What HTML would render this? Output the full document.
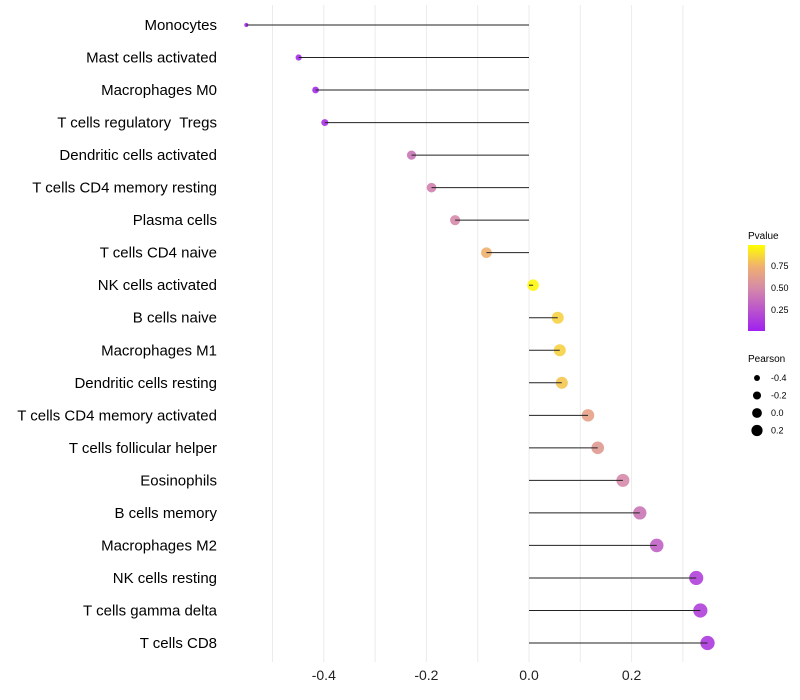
<!DOCTYPE html>
<html><head><meta charset="utf-8"><style>
body{margin:0;background:#fff;}
svg{display:block;font-family:"Liberation Sans",sans-serif;}
</style></head><body>
<svg id="chart" width="800" height="700">
<defs><linearGradient id="pg" x1="0" y1="1" x2="0" y2="0">
<stop offset="0" stop-color="#a020f0"/><stop offset="0.5" stop-color="#d58aa8"/><stop offset="0.75" stop-color="#f0b070"/><stop offset="1" stop-color="#ffff00"/>
</linearGradient></defs>
<g id="grid"></g><g id="dots"></g><g id="marks"></g><g id="labels"></g>
<g id="legend">
<text x="748" y="239" font-size="10">Pvalue</text>
<rect x="748" y="245" width="17" height="86" fill="url(#pg)"/>
<text x="771" y="269" font-size="9">0.75</text>
<text x="771" y="291" font-size="9">0.50</text>
<text x="771" y="313" font-size="9">0.25</text>
<text x="748" y="362" font-size="10">Pearson</text>
</g>
</svg>
<script>
const categories=["Monocytes","Mast cells activated","Macrophages M0","T cells regulatory  Tregs","Dendritic cells activated","T cells CD4 memory resting","Plasma cells","T cells CD4 naive","NK cells activated","B cells naive","Macrophages M1","Dendritic cells resting","T cells CD4 memory activated","T cells follicular helper","Eosinophils","B cells memory","Macrophages M2","NK cells resting","T cells gamma delta","T cells CD8"];
const pearson=[-0.551,-0.449,-0.416,-0.398,-0.229,-0.19,-0.144,-0.083,0.008,0.056,0.06,0.064,0.115,0.134,0.183,0.216,0.249,0.326,0.334,0.348];
const pvalues=[0.03,0.05,0.05,0.08,0.4,0.45,0.5,0.75,0.97,0.85,0.85,0.82,0.65,0.6,0.5,0.4,0.3,0.15,0.15,0.12];
const xTicks=[-0.4,-0.2,0.0,0.2];
const xTickLabels=["-0.4","-0.2","0.0","0.2"];
const gridVals=[-0.5,-0.4,-0.3,-0.2,-0.1,0,0.1,0.2,0.3];
const sizeLegendVals=[-0.4,-0.2,0.0,0.2];
const NS="http://www.w3.org/2000/svg";
const x=v=>529+v*513;
const y=i=>25+i*(618/(categories.length-1));
const r=v=>Math.sqrt(Math.max(3,33+52*v));
function lerp(a,b,t){return a.map((c,i)=>Math.round(c+(b[i]-c)*t));}
function col(p){const s=[[0,[160,32,240]],[0.5,[213,138,168]],[0.75,[240,176,112]],[1,[255,255,0]]];
for(let k=1;k<s.length;k++){if(p<=s[k][0]){const t=(p-s[k-1][0])/(s[k][0]-s[k-1][0]);const c=lerp(s[k-1][1],s[k][1],t);return `rgb(${c})`;}}return "rgb(255,255,0)";}
function mk(t,a,parent){const e=document.createElementNS(NS,t);for(const k in a)e.setAttribute(k,a[k]);document.getElementById(parent).appendChild(e);return e;}
gridVals.forEach(g=>{const e=mk("line",{x1:x(g),x2:x(g),y1:5,y2:662,stroke:"#ebebeb","stroke-width":1},"grid");

});
categories.forEach((c,i)=>{
const d=mk("circle",{cx:x(pearson[i]),cy:y(i),r:r(pearson[i]),fill:col(pvalues[i]),"fill-opacity":0.9},"dots");


const l=mk("line",{x1:x(0),x2:x(pearson[i]),y1:y(i),y2:y(i),stroke:"#222","stroke-width":1},"marks");


const t=mk("text",{x:217,y:y(i)+5,"text-anchor":"end","font-size":15,fill:"#000"},"labels");
t.setAttribute("xml:space","preserve");
t.style.whiteSpace="pre";
t.textContent=c;

});
xTicks.forEach((v,i)=>{const t=mk("text",{x:x(v),y:680,"text-anchor":"middle","font-size":14,fill:"#222"},"labels");
t.textContent=xTickLabels[i];

});
sizeLegendVals.forEach((v,i)=>{const cy=378+i*17.5;
const c=mk("circle",{cx:757,cy:cy,r:r(v)*0.85,fill:"#000"},"legend");


const t=mk("text",{x:771,y:cy+3,"font-size":9},"legend");
t.textContent=v.toFixed(1);

});
</script>
</body></html>
